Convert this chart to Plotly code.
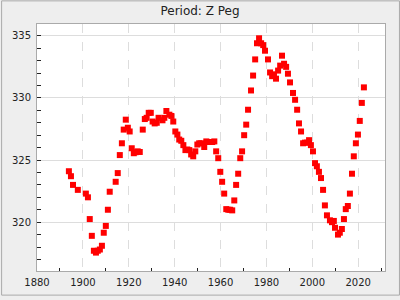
import plotly.graph_objects as go

years = [1893.9, 1894.8, 1895.7, 1897.8, 1901.3, 1902.2, 1903.0, 1903.9, 1904.8, 1905.7,
         1906.5, 1907.4, 1908.3, 1909.1, 1910.0, 1910.9, 1911.7, 1914.3, 1915.2, 1916.1,
         1917.0, 1917.8, 1918.7, 1919.6, 1920.4, 1921.3, 1922.2, 1923.0, 1923.9, 1924.8,
         1926.1, 1927.0, 1927.8, 1928.7, 1929.6, 1930.4, 1931.3, 1932.2, 1933.0, 1934.7,
         1935.5, 1936.4, 1937.7, 1938.6, 1939.4, 1940.3, 1941.2, 1942.0, 1942.9, 1943.8,
         1944.7, 1945.5, 1946.4, 1947.2, 1948.1, 1949.0, 1949.9, 1950.7, 1951.6, 1952.9,
         1953.8, 1954.6, 1955.5, 1956.4, 1957.3, 1958.1, 1959.0, 1959.9, 1960.7, 1961.6,
         1962.5, 1963.4, 1964.2, 1965.1, 1966.0, 1966.8, 1967.7, 1968.6, 1969.4, 1970.3,
         1971.2, 1972.0, 1973.3, 1974.2, 1975.1, 1975.9, 1976.8, 1977.7, 1978.6, 1979.4,
         1980.7, 1981.6, 1982.5, 1983.3, 1984.2, 1985.1, 1986.0, 1986.8, 1987.7, 1988.6,
         1989.4, 1990.3, 1991.6, 1992.5, 1993.4, 1994.2, 1995.1, 1996.0, 1996.8, 1997.7,
         1998.6, 1999.4, 2000.3, 2001.2, 2002.0, 2002.9, 2003.8, 2004.7, 2005.5, 2006.4,
         2007.7, 2008.6, 2009.4, 2009.9, 2011.2, 2012.0, 2012.9, 2013.8, 2014.6, 2015.5,
         2016.4, 2017.3, 2018.1, 2019.0, 2019.9, 2020.7, 2021.6, 2022.5]

periods = [324.1, 323.7, 323.0, 322.6, 322.3, 322.0, 320.25, 318.9, 317.7, 317.55,
           317.7, 317.8, 318.1, 319.15, 319.7, 321.0, 322.45, 323.25, 323.95, 325.4,
           326.35, 327.45, 328.25, 327.6, 327.3, 325.95, 325.55, 325.63, 325.7, 325.65,
           327.45, 328.3, 328.4, 328.8, 328.8, 328.1, 327.95, 328.0, 328.4, 328.2,
           328.4, 328.95, 328.65, 328.55, 328.1, 327.3, 327.05, 326.65, 326.55, 326.2,
           325.8, 325.85, 325.8, 325.45, 325.3, 325.7, 326.25, 326.35, 326.35, 326.05,
           326.5, 326.45, 326.45, 326.45, 326.5, 325.7, 325.15, 324.05, 323.25, 322.3,
           321.05, 321.0, 321.0, 320.95, 321.75, 323.0, 323.9, 325.15, 325.7, 327.0,
           327.85, 329.05, 330.6, 331.8, 333.1, 334.4, 334.8, 334.4, 334.25, 333.8,
           333.1, 332.05, 331.75, 331.9, 331.55, 332.2, 332.6, 333.4, 332.75, 332.5,
           331.95, 331.25, 330.4, 329.85, 329.05, 327.95, 327.3, 326.35, 326.4, 326.4,
           326.6, 326.2, 325.7, 324.75, 324.5, 324.05, 323.55, 322.6, 321.35, 320.55,
           320.15, 320.0, 320.1, 319.55, 319.0, 319.15, 319.45, 320.25, 321.05, 321.3,
           322.3, 323.9, 325.3, 326.35, 327.05, 328.15, 329.6, 330.85]

title_text = "Period: Z Peg"

fig = go.Figure(go.Scatter(
    x=years, y=periods, mode="markers",
    marker=dict(symbol="square", size=6, color="#ff0000", line=dict(width=0)),
    showlegend=False, hoverinfo="skip",
))

W, H = 400, 300
ml, mr, mt, mb = 36, 15, 24, 25
pw, ph = W - ml - mr, H - mt - mb

font = dict(family="DejaVu Sans", size=10, color="#222222")

fig.update_layout(
    width=W, height=H,
    margin=dict(l=ml, r=mr, t=mt, b=mb, pad=0),
    paper_bgcolor="#eeeeee", plot_bgcolor="#ffffff",
    title=dict(text=title_text, x=0.5, xref="container", xanchor="center",
               y=1 - 11 / H, yref="container", yanchor="middle",
               font=dict(family="DejaVu Sans", size=12, color="#222222")),
    font=font,
    shapes=[dict(type="rect", xref="paper", yref="paper",
                 x0=-(ml - 0.5) / pw, x1=1 + (mr - 0.5) / pw,
                 y0=-(mb - 0.5) / ph, y1=1 + (mt - 0.5) / ph,
                 line=dict(color="#aaaaaa", width=1), layer="below")],
)

fig.update_xaxes(
    range=[1880, 2031.7], tick0=1880, dtick=20,
    showgrid=True, gridcolor="#dddddd", griddash="dash", gridwidth=1,
    ticks="", tickfont=font, zeroline=False, ticklabelstandoff=2,
    showline=True, linecolor="#aaaaaa", linewidth=1, mirror=True,
    minor=dict(tick0=1880, dtick=10, ticks="inside", ticklen=3, tickcolor="#222222",
               showgrid=False),
)
fig.update_yaxes(
    range=[316.07, 335.95], tick0=320, dtick=5,
    showgrid=True, gridcolor="#dddddd", gridwidth=1,
    ticks="inside", ticklen=4, tickcolor="#222222", tickfont=font, zeroline=False,
    ticklabelstandoff=3,
    showline=True, linecolor="#aaaaaa", linewidth=1, mirror=True,
    minor=dict(dtick=1, ticks="inside", ticklen=4, tickcolor="#222222", showgrid=False),
)

fig.write_html("out.html")
